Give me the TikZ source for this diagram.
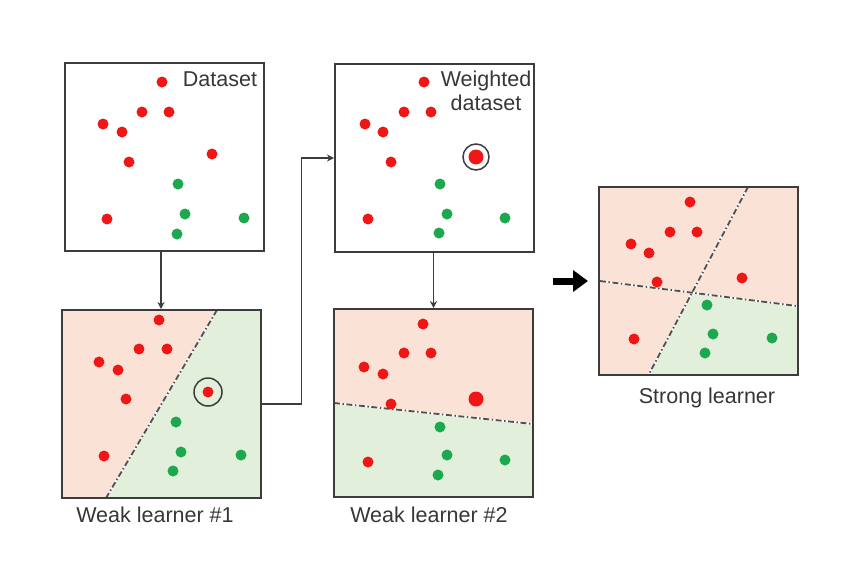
\documentclass[tikz,border=0pt]{standalone}
\usepackage{fontspec}
\setmainfont{Liberation Sans}
\usetikzlibrary{arrows.meta,calc}
\definecolor{dotred}{RGB}{240,22,22}
\definecolor{dotgreen}{RGB}{28,168,78}
\definecolor{salmon}{RGB}{251,226,214}
\definecolor{mint}{RGB}{226,239,218}
\definecolor{frame}{RGB}{60,60,60}
\definecolor{txt}{RGB}{55,55,55}
\tikzset{
  panel/.style={draw=frame, line width=2pt, minimum width=199pt, minimum height=188pt, inner sep=0pt},
  rd/.style={fill=dotred},
  gd/.style={fill=dotgreen},
  border/.style={white, line width=1.8pt},
  boundary/.style={draw=frame!90, line width=1.8pt, dash pattern=on 6pt off 2.5pt on 1.5pt off 2.5pt},
  ring/.style={draw=frame, line width=1.5pt},
  conn/.style={draw=frame, line width=1.8pt, -{Stealth[length=7pt,width=7pt]}},
  lbl/.style={text=txt, font=\fontsize{21.5}{24}\selectfont, inner sep=0pt, anchor=base}
}
\begin{document}
\begin{tikzpicture}[x=1pt,y=-1pt]
\useasboundingbox[fill=white] (0,0) rectangle (866,562);
% ---- fills
\fill[salmon] (62,310) -- (217,310) -- (106,498) -- (62,498) -- cycle;
\fill[mint] (217,310) -- (260,310) -- (260,498) -- (106,498) -- cycle;
\fill[salmon] (334,309) -- (533,309) -- (533,424) -- (334,403) -- cycle;
\fill[mint] (334,403) -- (533,424) -- (533,497) -- (334,497) -- cycle;
\fill[salmon] (600,187) rectangle (797,374);
\fill[mint] (692,293) -- (797,306) -- (797,374) -- (649,374) -- cycle;
% ---- boundaries
\foreach \a/\b in {{(217,310)}/{(106,498)}, {(334,403)}/{(533,424)}, {(748,187)}/{(649,374)}, {(600,281)}/{(797,306)}}{
  \draw[border] \a -- \b;
  \draw[boundary] \a -- \b;
}
% ---- box 1 dots
\foreach \p in {(162,82),(142,112),(169,112),(103,124),(122,132),(129,162),(212,154),(107,219)} \fill[rd] \p circle (5.5);
\foreach \p in {(178,184),(185,214),(244,218),(177,234)} \fill[gd] \p circle (5.5);
% ---- box 2 dots
\foreach \p in {(424,82),(404,112),(431,112),(365,124),(383,132),(391,162),(368,219)} \fill[rd] \p circle (5.5);
\fill[rd] (476,157) circle (7.5);
\draw[ring] (476,157) circle (13);
\foreach \p in {(440,184),(447,214),(505,218),(439,233)} \fill[gd] \p circle (5.5);
% ---- box 3 dots
\foreach \p in {(159,320),(139,349),(167,349),(99,362),(118,370),(126,399),(208,392),(104,456)} \fill[rd] \p circle (5.5);
\draw[ring] (208,392) circle (14);
\foreach \p in {(176,422),(181,452),(241,455),(173,471)} \fill[gd] \p circle (5.5);
% ---- box 4 dots
\foreach \p in {(423,324),(404,353),(431,353),(364,367),(383,374),(391,404),(368,462)} \fill[rd] \p circle (5.5);
\fill[rd] (476,399) circle (7.5);
\foreach \p in {(440,427),(447,455),(505,460),(438,475)} \fill[gd] \p circle (5.5);
% ---- box 5 dots
\foreach \p in {(690,202),(670,232),(697,232),(631,244),(649,253),(657,282),(742,278),(634,339)} \fill[rd] \p circle (5.5);
\foreach \p in {(707,305),(713,334),(772,338),(705,353)} \fill[gd] \p circle (5.5);
% ---- panels
\node[panel] (b1) at (164.5,156.5) {};
\node[panel] (b2) at (434.5,158) {};
\node[panel] (b3) at (161,404) {};
\node[panel] (b4) at (433.5,403) {};
\node[panel] (b5) at (698.5,280.5) {};
% ---- labels
\node[lbl] (t1) at (220,86) {Dataset};
\node[lbl] (t2a) at (486,86) {Weighted};
\node[lbl] (t2b) at (486,110) {dataset};
\node[lbl] (t3) at (155,522) {Weak learner \#1};
\node[lbl] (t4) at (429,522) {Weak learner \#2};
\node[lbl] (t5) at (707,403) {Strong learner};
% ---- connectors
\draw[conn] (b3.north |- b1.south) -- (b3.north);
\draw[conn] (b4.north |- b2.south) -- (b4.north);
\draw[conn] (b3.east) -- ++(40,0) |- (b2.west);
\coordinate (a1) at (553,281);
\coordinate (a2) at (588,281);
\draw[line width=7pt, -{Triangle[length=15pt,width=21pt]}] (a1) -- (a2);
\end{tikzpicture}
\end{document}
